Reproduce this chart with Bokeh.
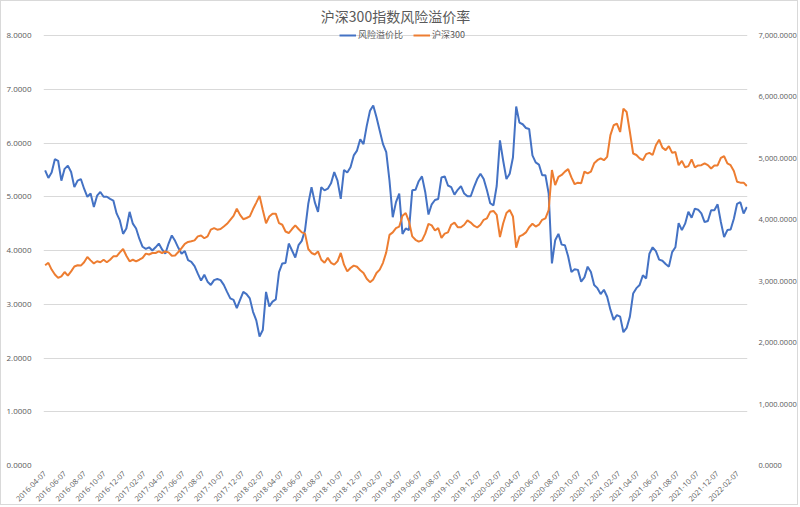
import numpy as np
import pandas as pd
from bokeh.plotting import figure
from bokeh.models import (Range1d, LinearAxis, FixedTicker, NumeralTickFormatter,
                          DatetimeTickFormatter, Legend, LegendItem)
from bokeh.embed import file_html
from bokeh.resources import INLINE

title_text = "沪深300指数风险溢价率"
series_names = ["风险溢价比", "沪深300"]
start_date = "2016-04-07"
step_days = 10

risk_premium = [
    5.49, 5.35, 5.45, 5.70, 5.67, 5.30, 5.52, 5.58, 5.46, 5.18,
    5.30, 5.33, 5.15, 5.00, 5.06, 4.81, 5.02, 5.09, 5.00, 5.00,
    4.96, 4.93, 4.69, 4.56, 4.31, 4.41, 4.72, 4.50, 4.41, 4.22,
    4.07, 4.03, 4.06, 4.00, 4.06, 4.13, 4.02, 3.94, 4.13, 4.28,
    4.18, 4.05, 3.94, 3.99, 3.82, 3.79, 3.71, 3.57, 3.44, 3.55,
    3.42, 3.36, 3.45, 3.47, 3.45, 3.36, 3.23, 3.11, 3.08, 2.93,
    3.08, 3.23, 3.19, 3.11, 2.86, 2.70, 2.40, 2.52, 3.23, 2.96,
    3.05, 3.09, 3.60, 3.76, 3.77, 4.13, 4.00, 3.87, 4.10, 4.18,
    4.38, 4.87, 5.18, 4.90, 4.72, 5.18, 5.12, 5.15, 5.25, 5.46,
    5.30, 4.96, 5.50, 5.45, 5.55, 5.77, 5.86, 6.07, 5.98, 6.32,
    6.60, 6.70, 6.48, 6.23, 5.98, 5.83, 5.30, 4.62, 4.90, 5.06,
    4.31, 4.41, 4.38, 5.12, 5.13, 5.29, 5.38, 5.09, 4.67, 4.86,
    4.94, 4.96, 5.36, 5.38, 5.21, 5.18, 5.04, 5.13, 5.20, 5.06,
    5.01, 5.01, 5.18, 5.33, 5.43, 5.33, 5.12, 4.88, 4.84, 5.20,
    6.05, 5.67, 5.33, 5.43, 5.73, 6.68, 6.38, 6.35, 6.28, 6.26,
    5.77, 5.64, 5.60, 5.40, 5.40, 5.06, 3.76, 4.19, 4.31, 4.11,
    4.10, 3.89, 3.60, 3.65, 3.64, 3.42, 3.50, 3.70, 3.60, 3.36,
    3.30, 3.19, 3.27, 3.14, 2.90, 2.71, 2.80, 2.77, 2.48, 2.56,
    2.77, 3.20, 3.30, 3.36, 3.54, 3.48, 3.94, 4.06, 3.99, 3.83,
    3.81, 3.75, 3.70, 3.97, 4.06, 4.51, 4.38, 4.50, 4.72, 4.61,
    4.78, 4.76, 4.69, 4.53, 4.55, 4.75, 4.75, 4.86, 4.53, 4.25,
    4.38, 4.39, 4.59, 4.87, 4.90, 4.69, 4.81,
]

csi300 = [
    3260, 3300, 3190, 3110, 3055, 3080, 3150, 3090, 3160, 3240,
    3260, 3255, 3310, 3395, 3340, 3290, 3325, 3310, 3350, 3310,
    3350, 3405, 3405, 3470, 3525, 3415, 3325, 3350, 3325, 3350,
    3380, 3450, 3435, 3460, 3460, 3485, 3460, 3485, 3470, 3415,
    3420, 3475, 3540, 3610, 3640, 3650, 3665, 3730, 3745, 3700,
    3730, 3840, 3865, 3840, 3850, 3890, 3935, 4000, 4065, 4180,
    4080, 4010, 4030, 4055, 4175, 4280, 4390, 4160, 3945, 4055,
    4100, 4100, 3945, 3920, 3810, 3785, 3850, 3910, 3850, 3795,
    3775, 3525, 3460, 3435, 3485, 3350, 3300, 3380, 3300, 3270,
    3325, 3460, 3270, 3160, 3215, 3255, 3235, 3180, 3135, 3040,
    2985, 3030, 3135, 3190, 3300, 3470, 3755, 3795, 3865, 3890,
    4065, 4110, 3975, 3730, 3675, 3645, 3665, 3775, 3935, 3910,
    3825, 3865, 3705, 3775, 3795, 3920, 3955, 3880, 3880, 3920,
    3990, 3955, 3905, 3875, 3920, 4000, 4025, 4130, 4145, 4080,
    3720, 3945, 4110, 4160, 4055, 3545, 3730, 3755, 3795, 3880,
    3935, 3890, 3920, 4000, 4025, 4160, 4810, 4565, 4700, 4730,
    4785, 4825, 4690, 4580, 4605, 4595, 4785, 4755, 4785, 4920,
    4970, 5000, 4970, 5025, 5380, 5540, 5565, 5430, 5810, 5755,
    5430, 5080, 5055, 5000, 4970, 5070, 5090, 5055, 5215, 5305,
    5175, 5135, 5200, 5090, 5105, 4890, 4960, 4855, 4875, 4985,
    4855, 4885, 4890, 4920, 4890, 4835, 4885, 4885, 5010, 5035,
    4920, 4890, 4795, 4620, 4605, 4605, 4550,
]

x_tick_labels = [
    "2016-04-07", "2016-06-07", "2016-08-07", "2016-10-07", "2016-12-07",
    "2017-02-07", "2017-04-07", "2017-06-07", "2017-08-07", "2017-10-07", "2017-12-07",
    "2018-02-07", "2018-04-07", "2018-06-07", "2018-08-07", "2018-10-07", "2018-12-07",
    "2019-02-07", "2019-04-07", "2019-06-07", "2019-08-07", "2019-10-07", "2019-12-07",
    "2020-02-07", "2020-04-07", "2020-06-07", "2020-08-07", "2020-10-07", "2020-12-07",
    "2021-02-07", "2021-04-07", "2021-06-07", "2021-08-07", "2021-10-07", "2021-12-07",
    "2022-02-07",
]
left_ticks = [0, 1, 2, 3, 4, 5, 6, 7, 8]
right_ticks = [0, 1000, 2000, 3000, 4000, 5000, 6000, 7000]
left_max, right_max = 8, 7000
headroom = 1.01875   # small space above the top gridline for the legend

dates = pd.Timestamp(start_date) + pd.to_timedelta(np.arange(len(risk_premium)) * step_days, unit="D")

def ms(s):
    return pd.Timestamp(s).value / 1e6

BLUE = "#4472C4"
ORANGE = "#ED7D31"
GRAY_TXT = "#595959"
GRID = "#D9D9D9"
FONT = "Open Sans"
CJK = "Noto Sans CJK SC"

p = figure(width=798, height=505, x_axis_type="datetime", output_backend="svg",
           toolbar_location=None,
           x_range=Range1d(ms("2016-04-02"), ms("2022-03-09")),
           y_range=Range1d(0, left_max * headroom))
p.styles = {"border": "1px solid #D9D9D9"}
p.min_border_left = 42
p.min_border_right = 49
p.min_border_top = 26
p.min_border_bottom = 39
p.outline_line_color = None
p.background_fill_color = "white"
p.border_fill_color = "white"

p.title.text = title_text
p.title.align = "center"
p.title.text_font = CJK
p.title.text_font_size = "14px"
p.title.text_font_style = "normal"
p.title.text_color = GRAY_TXT
p.title.standoff = 3

p.extra_y_ranges = {"right": Range1d(0, right_max * headroom)}

r1 = p.line(dates, risk_premium, line_color=BLUE, line_width=2)
r2 = p.line(dates, csi300, line_color=ORANGE, line_width=2, y_range_name="right")

# axes
p.xaxis.ticker = FixedTicker(ticks=[ms(s) for s in x_tick_labels])
fmt = "%Y-%m-%d"
p.xaxis.formatter = DatetimeTickFormatter(days=fmt, months=fmt, years=fmt, hours=fmt,
                                          minutes=fmt, seconds=fmt, milliseconds=fmt,
                                          microseconds=fmt, minsec=fmt, hourmin=fmt)
p.xaxis.major_label_orientation = np.pi / 4

p.yaxis.ticker = FixedTicker(ticks=left_ticks)
p.yaxis.formatter = NumeralTickFormatter(format="0.0000")

right_axis = LinearAxis(y_range_name="right", ticker=FixedTicker(ticks=right_ticks),
                        formatter=NumeralTickFormatter(format="0,0.0000"))
p.add_layout(right_axis, "right")

for ax in [p.xaxis[0], p.yaxis[0], right_axis]:
    ax.axis_line_color = None
    ax.major_tick_line_color = None
    ax.minor_tick_line_color = None
    ax.major_label_text_font = FONT
    ax.major_label_text_font_size = "8px"
    ax.major_label_text_color = GRAY_TXT
p.xaxis.major_label_text_font_size = "7.5px"
p.xaxis.major_label_standoff = 1
p.yaxis[0].major_label_standoff = 6
right_axis.major_label_standoff = 5
right_axis.major_label_text_font_size = "7.5px"

p.xgrid.grid_line_color = None
p.ygrid.grid_line_color = GRID
p.ygrid.grid_line_width = 1

legend = Legend(items=[LegendItem(label=series_names[0], renderers=[r1]),
                       LegendItem(label=series_names[1], renderers=[r2])],
                orientation="horizontal", location=(296, 424))
legend.label_text_font = CJK
legend.label_text_font_size = "9px"
legend.label_text_color = GRAY_TXT
legend.glyph_width = 17
legend.glyph_height = 10
legend.label_standoff = 2
legend.spacing = 10
legend.padding = 0
legend.margin = 0
legend.border_line_color = None
legend.background_fill_alpha = 0
p.add_layout(legend)

open("out.html", "w").write(file_html(p, INLINE))
